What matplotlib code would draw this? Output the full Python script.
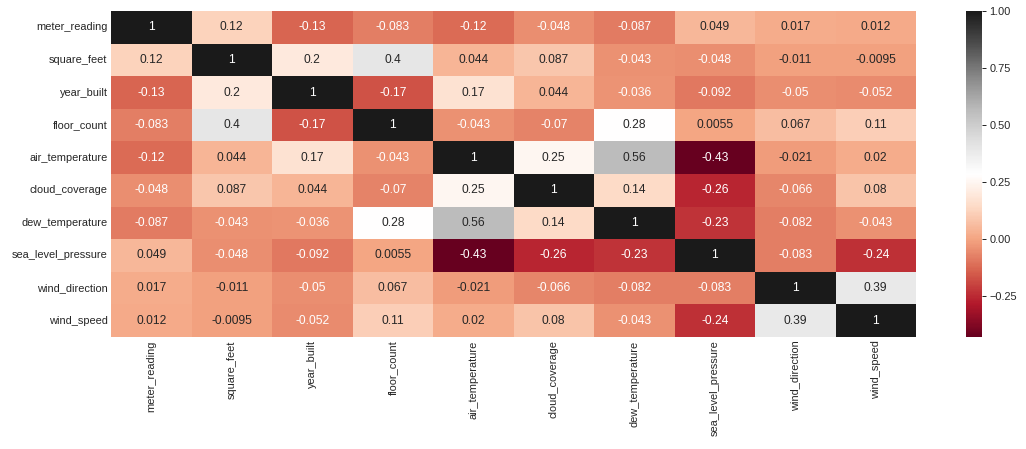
import matplotlib
matplotlib.use("Agg")
import matplotlib.pyplot as plt
import numpy as np
import pandas as pd
import seaborn as sns

labels = ["meter_reading", "square_feet", "year_built", "floor_count", "air_temperature",
          "cloud_coverage", "dew_temperature", "sea_level_pressure", "wind_direction", "wind_speed"]

r_meter_reading = [1, 0.12, -0.13, -0.083, -0.12, -0.048, -0.087, 0.049, 0.017, 0.012]
r_square_feet = [0.12, 1, 0.2, 0.4, 0.044, 0.087, -0.043, -0.048, -0.011, -0.0095]
r_year_built = [-0.13, 0.2, 1, -0.17, 0.17, 0.044, -0.036, -0.092, -0.05, -0.052]
r_floor_count = [-0.083, 0.4, -0.17, 1, -0.043, -0.07, 0.28, 0.0055, 0.067, 0.11]
r_air_temperature = [-0.12, 0.044, 0.17, -0.043, 1, 0.25, 0.56, -0.43, -0.021, 0.02]
r_cloud_coverage = [-0.048, 0.087, 0.044, -0.07, 0.25, 1, 0.14, -0.26, -0.066, 0.08]
r_dew_temperature = [-0.087, -0.043, -0.036, 0.28, 0.56, 0.14, 1, -0.23, -0.082, -0.043]
r_sea_level_pressure = [0.049, -0.048, -0.092, 0.0055, -0.43, -0.26, -0.23, 1, -0.083, -0.24]
r_wind_direction = [0.017, -0.011, -0.05, 0.067, -0.021, -0.066, -0.082, -0.083, 1, 0.39]
r_wind_speed = [0.012, -0.0095, -0.052, 0.11, 0.02, 0.08, -0.043, -0.24, 0.39, 1]

corr = pd.DataFrame([r_meter_reading, r_square_feet, r_year_built, r_floor_count,
                     r_air_temperature, r_cloud_coverage, r_dew_temperature,
                     r_sea_level_pressure, r_wind_direction, r_wind_speed],
                    index=labels, columns=labels)

sns.set_theme(style="white")
plt.rcParams['font.family'] = ['Liberation Sans', 'DejaVu Sans']

W, H = 1026, 449
dpi = 72
fig = plt.figure(figsize=(W / dpi, H / dpi), dpi=dpi)
ax = fig.add_axes([111 / W, (H - 337) / H, (916 - 111) / W, 326 / H])
cax = fig.add_axes([966 / W, (H - 337) / H, 16 / W, 326 / H])

sns.heatmap(corr, annot=True, cmap="RdGy", ax=ax, cbar_ax=cax,
            annot_kws={"fontsize": 12})
ax.tick_params(axis='both', labelsize=11, length=0)
ax.set_xticklabels(labels, rotation=90)
ax.set_yticklabels(labels, rotation=0)
cax.tick_params(axis='y', labelsize=11, right=True, length=4, width=1, color='#262626')
cax.set_yticks([-0.25, 0.0, 0.25, 0.5, 0.75, 1.0])
cax.set_yticklabels(["\u22120.25", "0.00", "0.25", "0.50", "0.75", "1.00"])
for s in cax.spines.values():
    s.set_visible(False)

fig.savefig("out.png", dpi=dpi)
